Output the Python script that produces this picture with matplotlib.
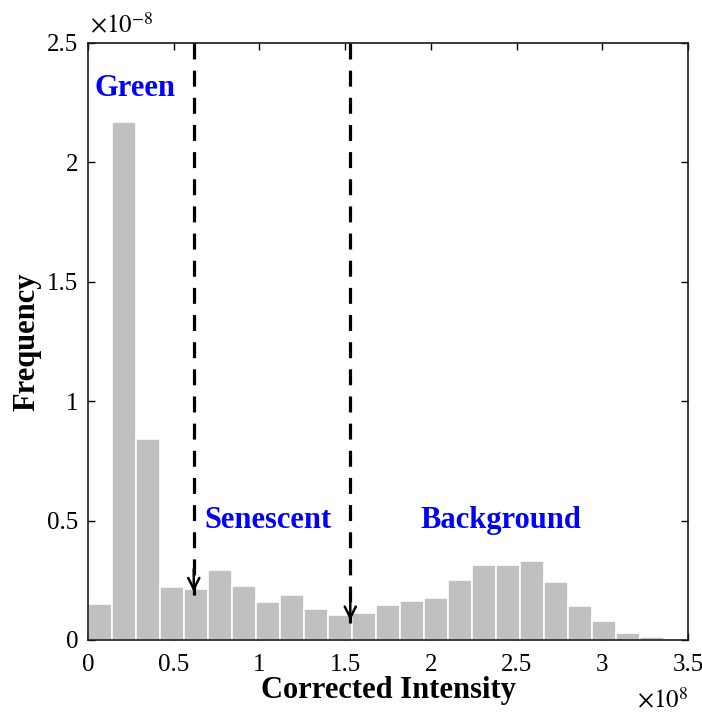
import numpy as np
import matplotlib
matplotlib.use("Agg")
import matplotlib.pyplot as plt
from matplotlib.ticker import FuncFormatter, MultipleLocator

plt.rcParams['font.family'] = ['Liberation Serif', 'DejaVu Serif']
plt.rcParams['mathtext.fontset'] = 'stix'

# Histogram data (bin width 0.14e8)
bin_width = 0.14e8
bin_edges_start = np.arange(25) * bin_width
freq = np.array([0.15, 2.17, 0.84, 0.22, 0.215, 0.295, 0.228, 0.16, 0.19,
                 0.13, 0.105, 0.115, 0.148, 0.162, 0.175, 0.252, 0.315,
                 0.315, 0.33, 0.243, 0.143, 0.078, 0.028, 0.011, 0.0]) * 1e-8

thresholds = [0.617e8, 1.53e8]
arrow_tips = [0.19e-8, 0.07e-8]

labels = ["Green", "Senescent", "Background"]
label_pos = [(0.04e8, 2.31e-8), (0.68e8, 0.5e-8), (1.94e8, 0.5e-8)]

fig = plt.figure(figsize=(7.02, 7.15), dpi=100)
ax = fig.add_axes([88/702, 1-640/715, 600/702, 597/715])

ax.bar(bin_edges_start, freq, width=bin_width, align='edge',
       color='#c0c0c0', edgecolor='white', linewidth=1.2, zorder=2)

for x, tip in zip(thresholds, arrow_tips):
    ax.plot([x, x], [2.5e-8, tip], color='black', lw=2.3,
            linestyle=(0, (5, 3.5)), zorder=3)
    ax.annotate('', xy=(x, tip), xytext=(x, tip + 0.12e-8),
                arrowprops=dict(arrowstyle='->', lw=1.8, color='black',
                                mutation_scale=20), zorder=4)

for t, (x, y) in zip(labels, label_pos):
    ax.text(x, y, t, color='#0000ff', fontsize=22, fontweight='bold',
            ha='left', va='center', zorder=5)

ax.set_xlim(0, 3.5e8)
ax.set_ylim(0, 2.5e-8)
ax.xaxis.set_major_locator(MultipleLocator(0.5e8))
ax.yaxis.set_major_locator(MultipleLocator(0.5e-8))
ax.xaxis.set_major_formatter(FuncFormatter(lambda v, p: '%g' % round(v / 1e8, 6)))
ax.yaxis.set_major_formatter(FuncFormatter(lambda v, p: '%g' % round(v / 1e-8, 6)))

ax.tick_params(direction='in', length=5, width=1, top=True, right=True,
               labelsize=18)
ax.tick_params(axis='x', pad=10)
ax.tick_params(axis='y', pad=7)
for s in ax.spines.values():
    s.set_linewidth(1.2)
    s.set_color('#1a1a1a')

ax.text(0.003, 1.008, r'$\times10^{-8}$', transform=ax.transAxes,
        fontsize=18, ha='left', va='bottom')
ax.text(1.0, -0.081, r'$\times10^{8}$', transform=ax.transAxes,
        fontsize=18, ha='right', va='top')

ax.set_xlabel('Corrected Intensity', fontsize=22, fontweight='bold')
ax.set_ylabel('Frequency', fontsize=22, fontweight='bold')
ax.xaxis.set_label_coords(0.5, -0.06)
ax.yaxis.set_label_coords(-0.078, 0.5)

fig.savefig('out.png', dpi=100)
